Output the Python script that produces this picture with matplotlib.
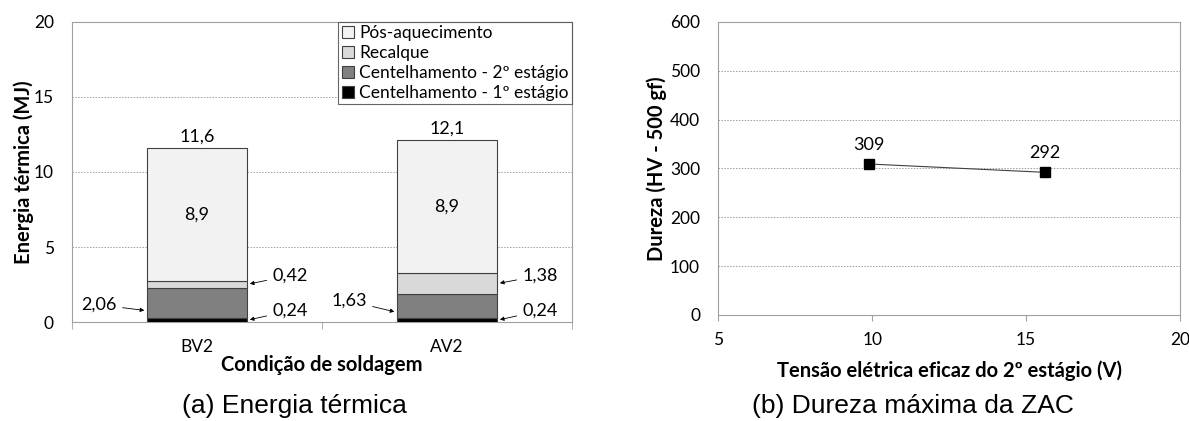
import matplotlib.pyplot as plt
from matplotlib.patches import Patch

plt.rcParams['font.family'] = ['Lato', 'DejaVu Sans']

# Dados - (a) energia térmica
condicoes = ['BV2', 'AV2']
cent_1 = [0.24, 0.24]
cent_2 = [2.06, 1.63]
recalque = [0.42, 1.38]
pos_aq = [8.9, 8.9]
totais = ['11,6', '12,1']

# Dados - (b) dureza
tensao = [9.9, 15.6]
dureza = [309, 292]

fig = plt.figure(figsize=(11.89, 4.21), dpi=100)
ax1 = fig.add_axes([0.0606, 0.235, 0.4206, 0.713])
ax2 = fig.add_axes([0.604, 0.252, 0.3886, 0.696])

cores = ['#000000', '#808080', '#d9d9d9', '#f2f2f2']
nomes = ['Centelhamento - 1º estágio', 'Centelhamento - 2º estágio',
         'Recalque', 'Pós-aquecimento']
series = [cent_1, cent_2, recalque, pos_aq]

x = list(range(len(condicoes)))
base = [0, 0]
for s, c in zip(series, cores):
    ax1.bar(x, s, 0.4, bottom=base, color=c, edgecolor='#404040', linewidth=0.8, zorder=3)
    base = [b + v for b, v in zip(base, s)]

# rótulos
fs = 13
for i in x:
    topo = base[i]
    meio = cent_1[i] + cent_2[i] + recalque[i] + pos_aq[i] / 2
    ax1.text(i, meio, f'{pos_aq[i]:.1f}'.replace('.', ','), ha='center', va='center', fontsize=fs)
    ax1.text(i, topo + 0.2, totais[i], ha='center', va='bottom', fontsize=fs)

seta = dict(arrowstyle='-|>', color='black', lw=0.6, mutation_scale=6)
for i in x:
    y_rec = cent_1[i] + cent_2[i] + recalque[i] / 2
    ax1.annotate(f'{recalque[i]:.2f}'.replace('.', ','), xy=(i + 0.2, y_rec),
                 xytext=(i + 0.3, 3.1), ha='left', va='center', fontsize=fs, arrowprops=seta)
    ax1.annotate(f'{cent_1[i]:.2f}'.replace('.', ','), xy=(i + 0.2, cent_1[i] / 2),
                 xytext=(i + 0.3, 0.75), ha='left', va='center', fontsize=fs, arrowprops=seta)
    y_c2 = cent_1[i] + cent_2[i] * 0.25
    ax1.annotate(f'{cent_2[i]:.2f}'.replace('.', ','), xy=(i - 0.2, y_c2),
                 xytext=(i - 0.32, 1.15 if i == 0 else 1.4), ha='right', va='center',
                 fontsize=fs, arrowprops=seta)

ax1.set_xlim(-0.5, 1.5)
ax1.set_ylim(0, 20)
ax1.set_yticks([0, 5, 10, 15, 20])
ax1.set_xticks(x)
ax1.set_xticklabels(condicoes)
ax1.set_xticks([-0.5, 0.5, 1.5], minor=True)
ax1.tick_params(axis='x', which='major', length=0, pad=12)
ax1.tick_params(axis='x', which='minor', length=5, color='#a0a0a0')
ax1.tick_params(axis='y', length=0, pad=13)
ax1.tick_params(labelsize=12.5)
ax1.grid(axis='y', linestyle=(0, (1.5, 1.5)), color='#a0a0a0', linewidth=0.7, zorder=0)
ax1.set_ylabel('Energia térmica (MJ)', fontsize=14.5, fontweight='bold', labelpad=0)
ax1.set_xlabel('Condição de soldagem', fontsize=14.5, fontweight='bold', labelpad=0)
for sp in ax1.spines.values():
    sp.set_color('#a0a0a0')

handles = [Patch(facecolor=c, edgecolor='#404040', linewidth=0.8, label=n)
           for c, n in zip(cores[::-1], nomes[::-1])]
leg = ax1.legend(handles=handles, loc='upper right', bbox_to_anchor=(1.0, 1.0),
                 fontsize=12.5, frameon=True, fancybox=False, borderaxespad=0,
                 handlelength=0.7, handleheight=0.7, handletextpad=0.3,
                 labelspacing=0.22, borderpad=0.2)
leg.get_frame().set_edgecolor('#404040')
leg.get_frame().set_linewidth(0.8)

# (b)
ax2.plot(tensao, dureza, color='#404040', lw=0.8, marker='s', markersize=7,
         markerfacecolor='black', markeredgecolor='black', zorder=3)
for xv, yv in zip(tensao, dureza):
    ax2.annotate(str(yv), (xv, yv), xytext=(0, 8), textcoords='offset points',
                 ha='center', va='bottom', fontsize=fs)
ax2.set_xlim(5, 20)
ax2.set_ylim(0, 600)
ax2.set_xticks([5, 10, 15, 20])
ax2.set_yticks(range(0, 601, 100))
ax2.tick_params(axis='x', length=4, color='#a0a0a0', pad=8, labelsize=12.5)
ax2.tick_params(axis='y', length=0, pad=13, labelsize=12.5)
ax2.grid(axis='y', linestyle=(0, (1.5, 1.5)), color='#a0a0a0', linewidth=0.7, zorder=0)
ax2.set_ylabel('Dureza (HV - 500 gf)', fontsize=14.5, fontweight='bold', labelpad=2)
ax2.set_xlabel('Tensão elétrica eficaz do 2º estágio (V)', fontsize=14.5, fontweight='bold', labelpad=9)
for sp in ax2.spines.values():
    sp.set_color('#a0a0a0')

fig.text(0.248, 0.006, '(a) Energia térmica', ha='center', va='bottom', fontsize=19,
         family='Liberation Sans')
fig.text(0.768, 0.006, '(b) Dureza máxima da ZAC', ha='center', va='bottom', fontsize=19,
         family='Liberation Sans')

fig.savefig('out.png', dpi=100)
